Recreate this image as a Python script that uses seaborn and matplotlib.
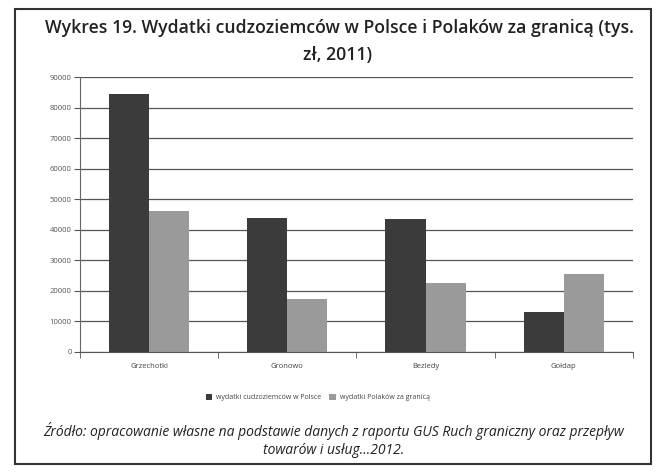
import numpy as np
import pandas as pd
import matplotlib.pyplot as plt
import seaborn as sns
from matplotlib.patches import Rectangle

# data
places = ["Grzechotki", "Gronowo", "Bezledy", "Gołdap"]
foreigners_in_poland = [84500, 44000, 43500, 13200]
poles_abroad = [46000, 17300, 22500, 25400]
series_names = ["wydatki cudzoziemców w Polsce", "wydatki Polaków za granicą"]
y_ticks = [0, 10000, 20000, 30000, 40000, 50000, 60000, 70000, 80000, 90000]

df = pd.DataFrame({
    "place": places * 2,
    "series": [series_names[0]] * 4 + [series_names[1]] * 4,
    "value": foreigners_in_poland + poles_abroad,
})

sns.set_style("white")
plt.rcParams["font.family"] = ["Open Sans", "DejaVu Sans"]

fig = plt.figure(figsize=(6.6, 4.73), dpi=100)
ax = fig.add_axes([0.121, 0.256, 0.838, 0.581])

sns.barplot(data=df, x="place", y="value", hue="series",
            palette=["#3b3b3b", "#9a9a9a"], width=0.58, gap=0,
            saturation=1, linewidth=0, ax=ax, legend=True)

ax.set_ylim(0, 90000)
ax.set_xlim(-0.5, 3.5)
ax.set_yticks(y_ticks)
ax.set_yticklabels([str(t) for t in y_ticks], fontsize=5.5, color="#555555")
ax.yaxis.grid(True, color="#555555", linewidth=0.9)
ax.set_axisbelow(True)
ax.set_xlabel("")
ax.set_ylabel("")
ax.tick_params(axis="x", length=0, labelsize=5.5, labelcolor="#444444", pad=8)
ax.set_xticks([-0.5, 0.5, 1.5, 2.5, 3.5], minor=True)
ax.tick_params(axis="x", which="minor", length=4, color="#555555", direction="out", bottom=True)
ax.tick_params(axis="y", length=4, color="#555555", direction="out", left=True, pad=2)

for s in ["top", "right"]:
    ax.spines[s].set_visible(False)
ax.spines["left"].set_color("#666666")
ax.spines["bottom"].set_color("#555555")

ax.legend(loc="upper center", bbox_to_anchor=(0.43, -0.13), ncol=2, frameon=False,
          fontsize=5, handlelength=1.0, handleheight=1.0, columnspacing=1.2,
          handletextpad=0.5, labelcolor="#444444")

fig.text(0.515, 0.941, "Wykres 19. Wydatki cudzoziemców w Polsce i Polaków za granicą (tys.",
         ha="center", va="center", fontsize=12.7, fontweight="semibold", color="#222222")
fig.text(0.512, 0.884, "zł, 2011)",
         ha="center", va="center", fontsize=12.7, fontweight="semibold", color="#222222")

fig.text(0.506, 0.088, "Źródło: opracowanie własne na podstawie danych z raportu GUS Ruch graniczny oraz przepływ",
         ha="center", va="center", fontsize=10, style="italic", color="#222222")
fig.text(0.506, 0.047, "towarów i usług...2012.",
         ha="center", va="center", fontsize=10, style="italic", color="#222222")

fig.patches.append(Rectangle((0.022, 0.018), 0.965, 0.962, transform=fig.transFigure,
                             fill=False, edgecolor="#333333", linewidth=1.5))

fig.savefig("out.png", dpi=100)
